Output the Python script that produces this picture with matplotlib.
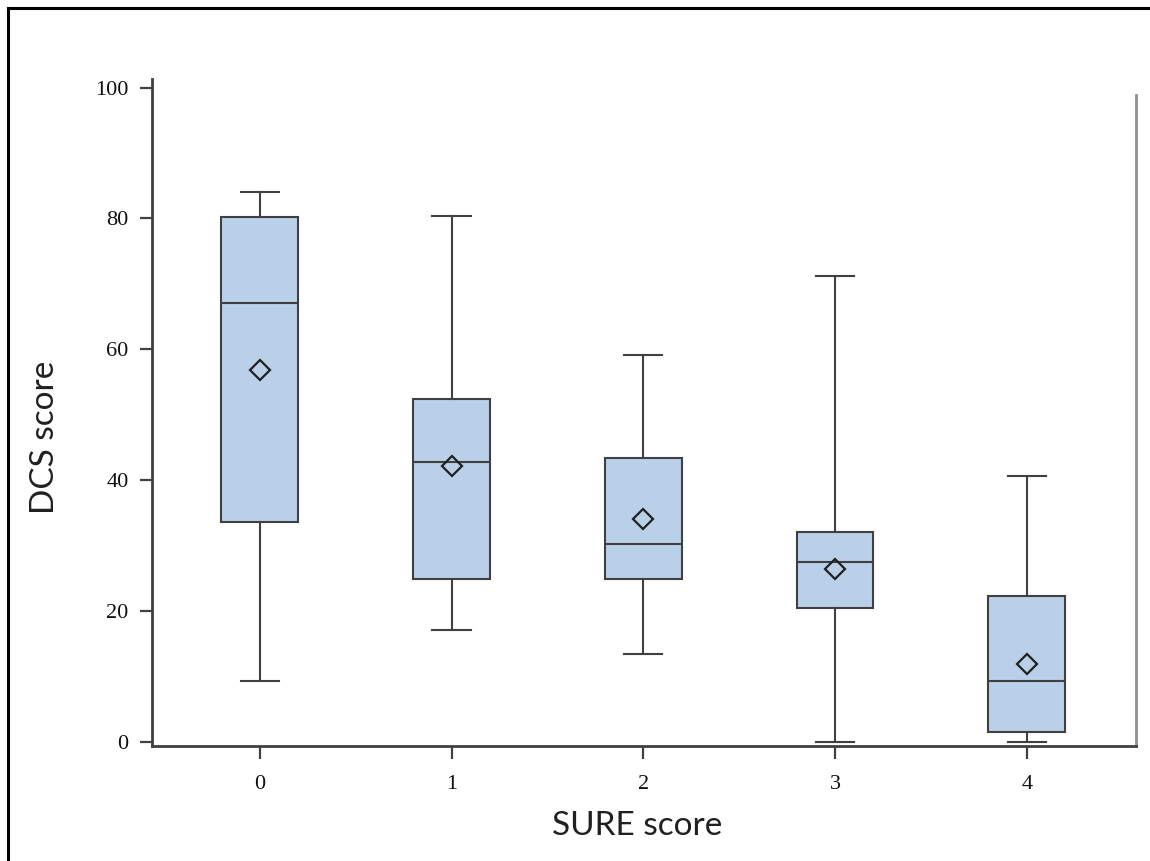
import matplotlib
matplotlib.use("Agg")
import matplotlib.pyplot as plt
from matplotlib.lines import Line2D

categories = ["0", "1", "2", "3", "4"]
whisker_low = [9.3, 17.2, 13.4, 0.0, 0.0]
q1 = [33.6, 25.0, 25.0, 20.5, 1.5]
median = [67.1, 42.8, 30.3, 27.6, 9.3]
q3 = [80.2, 52.5, 43.4, 32.1, 22.3]
whisker_high = [84.1, 80.3, 59.2, 71.2, 40.7]
mean = [56.9, 42.2, 34.1, 26.5, 12.0]
yticks = [0, 20, 40, 60, 80, 100]

edge = "#404040"
fill = "#b9d0e8"

fig = plt.figure(figsize=(11.5, 8.61), dpi=100)
ax = fig.add_axes([152/1150, (861-745.5)/861, (1136-152)/1150, (745.5-79)/861])

stats = []
for i, c in enumerate(categories):
    stats.append(dict(label=c, whislo=whisker_low[i], q1=q1[i], med=median[i],
                      q3=q3[i], whishi=whisker_high[i], mean=mean[i], fliers=[]))

positions = list(range(len(categories)))
ax.bxp(stats, positions=positions, widths=0.40, capwidths=0.20, patch_artist=True,
       showmeans=True, showfliers=False,
       boxprops=dict(facecolor=fill, edgecolor=edge, linewidth=1.5),
       medianprops=dict(color=edge, linewidth=1.5),
       whiskerprops=dict(color=edge, linewidth=1.5),
       capprops=dict(color=edge, linewidth=1.5),
       meanprops=dict(marker="D", markerfacecolor="none", markeredgecolor="#202020",
                      markersize=10, markeredgewidth=1.6))

ax.set_xlim(-0.5625, 4.57)
ax.set_ylim(-0.5, 101.3)
ax.set_xticks(positions)
ax.set_xticklabels(categories)
ax.set_yticks(yticks)
ax.set_yticklabels([str(v) for v in yticks])

for lab in ax.get_xticklabels() + ax.get_yticklabels():
    lab.set_fontfamily("Liberation Serif")
    lab.set_fontsize(16)
    lab.set_color("#101010")

ax.tick_params(axis="both", direction="out", length=9, width=1.6, color=edge, pad=8)
ax.tick_params(axis="x", pad=12)

ax.spines["top"].set_visible(False)
for s in ["left", "bottom"]:
    ax.spines[s].set_color(edge)
    ax.spines[s].set_linewidth(2.0)
ax.spines["right"].set_color("#909090")
ax.spines["right"].set_linewidth(2.0)
ax.spines["right"].set_bounds(-0.5, 98.8)

ax.set_xlabel("SURE score", fontfamily="Lato", fontsize=24, color="#202020")
ax.set_ylabel("DCS score", fontfamily="Lato", fontsize=24, color="#202020")
ax.xaxis.set_label_coords(0.493, -0.098)
ax.yaxis.set_label_coords(-0.093, 0.463)

# figure frame lines (top and left)
fig.add_artist(Line2D([8/1150, 1.0], [1 - 8/861, 1 - 8/861], transform=fig.transFigure,
                      color="black", linewidth=2.2))
fig.add_artist(Line2D([8/1150, 8/1150], [0.0, 1 - 8/861], transform=fig.transFigure,
                      color="black", linewidth=2.2))

fig.savefig("out.png", dpi=100)
